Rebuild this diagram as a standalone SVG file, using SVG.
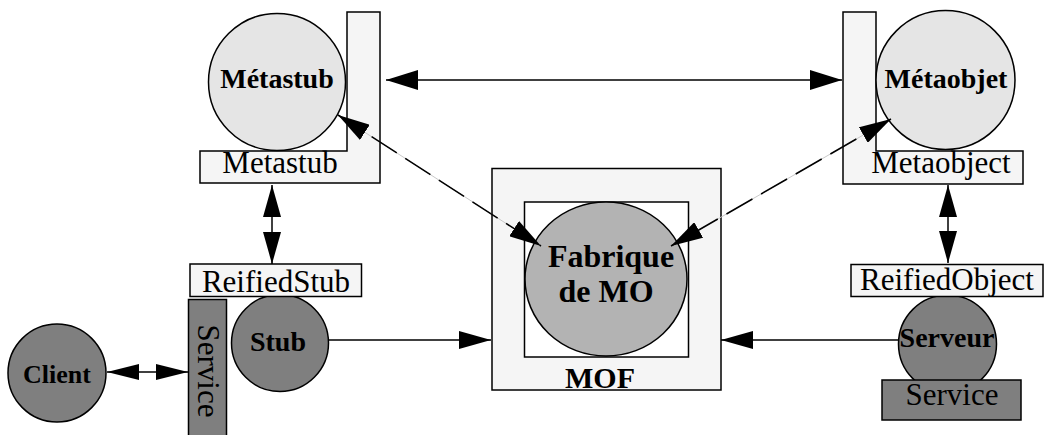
<svg xmlns="http://www.w3.org/2000/svg" width="1048" height="435" viewBox="0 0 1048 435">
<style>
.sh{stroke:#000;stroke-width:1.5}
.lt{fill:#f5f5f5}
.c1{fill:#e5e5e5}
.c2{fill:#b3b3b3}
.dk{fill:#7f7f7f}
.b{font-family:"Liberation Serif","Times New Roman",serif;font-weight:bold;text-anchor:middle;fill:#000}
.r{font-family:"Liberation Serif","Times New Roman",serif;text-anchor:middle;fill:#000}
.ln{stroke:#000;stroke-width:1.5;fill:none}
.dl{stroke:#000;stroke-width:1.5;fill:none;stroke-dasharray:30 10}
.ul{stroke:#c8c8c8;stroke-width:1;fill:none}
</style>
<defs>
<marker id="ah" markerUnits="userSpaceOnUse" viewBox="0 0 32 18" markerWidth="32" markerHeight="18" refX="32" refY="9" orient="auto-start-reverse"><path d="M0,0 L32,9 L0,18 z" fill="#000"/></marker>
<marker id="ahs" markerUnits="userSpaceOnUse" viewBox="0 0 32 16" markerWidth="32" markerHeight="16" refX="32" refY="8" orient="auto-start-reverse"><path d="M0,0 L32,8 L0,16 z" fill="#000"/></marker>
<marker id="ahb" markerUnits="userSpaceOnUse" viewBox="0 0 32 20" markerWidth="32" markerHeight="20" refX="32" refY="10" orient="auto-start-reverse"><path d="M0,0 L32,10 L0,20 z" fill="#000"/></marker>
</defs>

<g id="metastub">
<polygon class="sh lt" points="347,12 380,12 380,183 200,183 200,151 347,151"/>
<circle class="sh c1" cx="277" cy="82" r="68.5"/>
<text class="b" x="277" y="88" font-size="28">Métastub</text>
<text class="r" x="280" y="173" font-size="31">Metastub</text>
</g>

<g id="metaobjet">
<polygon class="sh lt" points="843,12 876,12 876,151 1023,151 1023,184 843,184"/>
<circle class="sh c1" cx="945.5" cy="80" r="69.5"/>
<text class="b" x="946" y="88" font-size="28">Métaobjet</text>
<text class="r" x="941" y="173" font-size="31">Metaobject</text>
</g>

<g id="mof">
<rect class="sh lt" x="492" y="168.5" width="229" height="221.5"/>
<rect class="sh" fill="#fff" x="524.5" y="202" width="164" height="155"/>
<ellipse class="sh c2" cx="606" cy="279" rx="81" ry="77"/>
<text class="b" x="611" y="267" font-size="32">Fabrique</text>
<text class="b" x="606" y="302" font-size="32">de MO</text>
<text class="b" x="600" y="388" font-size="30">MOF</text>
</g>

<g id="stub">
<circle class="sh dk" cx="280" cy="343" r="48.5"/>
<rect class="sh lt" x="190" y="264" width="171.5" height="32.5"/>
<text class="r" x="276" y="292" font-size="31">ReifiedStub</text>
<text class="b" x="278" y="351" font-size="28">Stub</text>
</g>

<g id="service-client">
<rect class="sh dk" x="188.5" y="299.5" width="38" height="140"/>
<text class="r" transform="translate(208,371) rotate(90)" x="0" y="10" font-size="31">Service</text>
</g>

<g id="client">
<circle class="sh dk" cx="57" cy="373" r="49"/>
<text class="b" x="57" y="383" font-size="26">Client</text>
</g>

<g id="serveur">
<circle class="sh dk" cx="947.5" cy="344" r="49"/>
<rect class="sh lt" x="851" y="264.5" width="192" height="32"/>
<text class="r" x="947" y="290" font-size="31">ReifiedObject</text>
<text class="b" x="947" y="347" font-size="28">Serveur</text>
<rect class="sh dk" x="882" y="380" width="139" height="40"/>
<text class="r" x="952" y="405" font-size="31">Service</text>
</g>

<g id="connectors">
<line class="ln" x1="386" y1="80" x2="842" y2="80" marker-start="url(#ahb)" marker-end="url(#ahb)"/>
<line class="ul" x1="338" y1="115" x2="541" y2="246"/>
<line class="dl" x1="338" y1="115" x2="541" y2="246" marker-start="url(#ah)" marker-end="url(#ah)"/>
<line class="ul" x1="891" y1="119" x2="671" y2="246"/>
<line class="dl" x1="891" y1="119" x2="671" y2="246" marker-start="url(#ah)" marker-end="url(#ah)"/>
<line class="ln" x1="272" y1="185" x2="272" y2="264" marker-start="url(#ah)" marker-end="url(#ah)"/>
<line class="ln" x1="948" y1="185" x2="948" y2="263" marker-start="url(#ah)" marker-end="url(#ah)"/>
<line class="ln" x1="107" y1="372" x2="188" y2="372" marker-start="url(#ahs)" marker-end="url(#ahs)"/>
<line class="ln" x1="329" y1="340" x2="491" y2="340" marker-end="url(#ah)"/>
<line class="ln" x1="899" y1="340" x2="721" y2="340" marker-end="url(#ah)"/>
</g>
</svg>
